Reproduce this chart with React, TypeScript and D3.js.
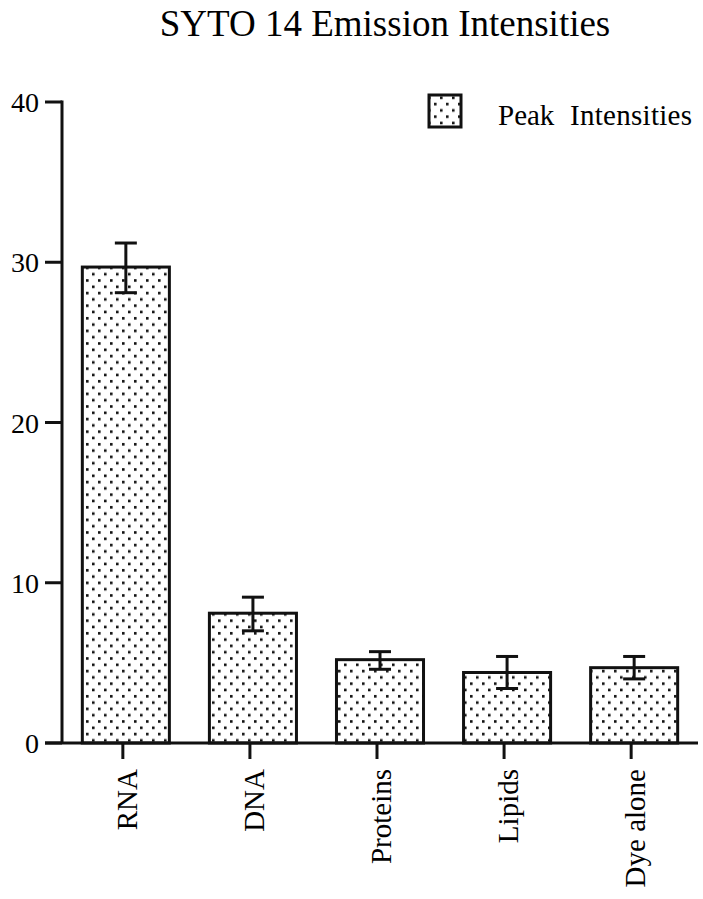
import React, { useRef, useEffect } from 'react';
import * as d3 from 'd3';

// data
const categories = ['RNA', 'DNA', 'Proteins', 'Lipids', 'Dye alone'];
const peakValues = [29.7, 8.1, 5.2, 4.4, 4.7];
const errorHigh = [31.2, 9.1, 5.7, 5.4, 5.4];
const errorLow = [28.1, 7.0, 4.6, 3.4, 4.0];
const yTicks = [0, 10, 20, 30, 40];

const FONT = '"Liberation Serif", "Times New Roman", serif';

const App = () => {
    const svgRef = useRef(null);

    useEffect(() => {
        if (!svgRef.current) return;
        document.body.style.margin = '0';
        const svg = d3.select(svgRef.current);
        svg.selectAll('*').remove();

        const width = 703;
        const height = 899;
        const axisX = 62;
        const axisY = 743;

        svg.attr('width', width).attr('height', height)
            .style('display', 'block')
            .style('background', '#fff');

        // dotted fill
        const pat = svg.append('defs').append('pattern')
            .attr('id', 'dots')
            .attr('patternUnits', 'userSpaceOnUse')
            .attr('width', 12)
            .attr('height', 12.6);
        pat.append('rect').attr('width', 12).attr('height', 12.6).attr('fill', '#fff');
        pat.append('rect').attr('x', 2).attr('y', 2).attr('width', 2.6).attr('height', 2.6).attr('fill', '#111');
        pat.append('rect').attr('x', 8).attr('y', 8.3).attr('width', 2.6).attr('height', 2.6).attr('fill', '#111');

        const x = d3.scaleBand()
            .domain(categories)
            .range([axisX, 698])
            .paddingInner(0.315)
            .paddingOuter(0.16);

        const y = d3.scaleLinear().domain([0, 40]).range([axisY, 102]);

        // title
        svg.append('text')
            .attr('x', 385)
            .attr('y', 36)
            .attr('text-anchor', 'middle')
            .style('font-family', FONT)
            .style('font-size', '37px')
            .text('SYTO 14 Emission Intensities');

        // bars
        const data = categories.map((c, i) => ({ c, v: peakValues[i], hi: errorHigh[i], lo: errorLow[i] }));

        svg.selectAll('.bar')
            .data(data)
            .enter().append('rect')
            .attr('class', 'bar')
            .attr('x', d => x(d.c))
            .attr('y', d => y(d.v))
            .attr('width', x.bandwidth())
            .attr('height', d => y(0) - y(d.v))
            .attr('fill', 'url(#dots)')
            .attr('stroke', '#111')
            .attr('stroke-width', 3);

        // error bars
        const err = svg.selectAll('.err')
            .data(data)
            .enter().append('g')
            .attr('class', 'err')
            .attr('stroke', '#111')
            .attr('stroke-width', 3);
        err.append('line')
            .attr('x1', d => x(d.c) + x.bandwidth() / 2)
            .attr('x2', d => x(d.c) + x.bandwidth() / 2)
            .attr('y1', d => y(d.hi))
            .attr('y2', d => y(d.lo));
        err.append('line')
            .attr('x1', d => x(d.c) + x.bandwidth() / 2 - 11)
            .attr('x2', d => x(d.c) + x.bandwidth() / 2 + 11)
            .attr('y1', d => y(d.hi))
            .attr('y2', d => y(d.hi));
        err.append('line')
            .attr('x1', d => x(d.c) + x.bandwidth() / 2 - 11)
            .attr('x2', d => x(d.c) + x.bandwidth() / 2 + 11)
            .attr('y1', d => y(d.lo))
            .attr('y2', d => y(d.lo));

        // y axis
        svg.append('line')
            .attr('x1', axisX).attr('x2', axisX)
            .attr('y1', y(40) - 1.5).attr('y2', axisY)
            .attr('stroke', '#111').attr('stroke-width', 3);
        svg.selectAll('.ytick')
            .data(yTicks)
            .enter().append('line')
            .attr('x1', axisX - 17).attr('x2', axisX)
            .attr('y1', d => y(d)).attr('y2', d => y(d))
            .attr('stroke', '#111').attr('stroke-width', 3);
        svg.selectAll('.ylabel')
            .data(yTicks)
            .enter().append('text')
            .attr('x', 39)
            .attr('y', d => y(d) + 10)
            .attr('text-anchor', 'end')
            .style('font-family', FONT)
            .style('font-size', '28px')
            .text(d => d);

        // x axis
        svg.append('line')
            .attr('x1', axisX - 17).attr('x2', 698)
            .attr('y1', axisY).attr('y2', axisY)
            .attr('stroke', '#111').attr('stroke-width', 3);
        svg.selectAll('.xtick')
            .data(categories)
            .enter().append('line')
            .attr('x1', d => x(d) + x.bandwidth() / 2 - 3)
            .attr('x2', d => x(d) + x.bandwidth() / 2 - 3)
            .attr('y1', axisY).attr('y2', axisY + 16)
            .attr('stroke', '#111').attr('stroke-width', 3);
        svg.selectAll('.xlabel')
            .data(categories)
            .enter().append('text')
            .attr('transform', d => 'translate(' + (x(d) + x.bandwidth() / 2 + 11) + ',769) rotate(-90)')
            .attr('text-anchor', 'end')
            .style('font-family', FONT)
            .style('font-size', '29px')
            .text(d => d);

        // legend
        svg.append('rect')
            .attr('x', 429).attr('y', 95)
            .attr('width', 32).attr('height', 32)
            .attr('fill', 'url(#dots)')
            .attr('stroke', '#111').attr('stroke-width', 3);
        svg.append('text')
            .attr('x', 498).attr('y', 125)
            .style('font-family', FONT)
            .style('font-size', '29px')
            .text('Peak');
        svg.append('text')
            .attr('x', 570).attr('y', 125)
            .attr('textLength', 122)
            .style('font-family', FONT)
            .style('font-size', '29px')
            .text('Intensities');
    }, []);

    return <svg ref={svgRef} />;
};

export default App;
